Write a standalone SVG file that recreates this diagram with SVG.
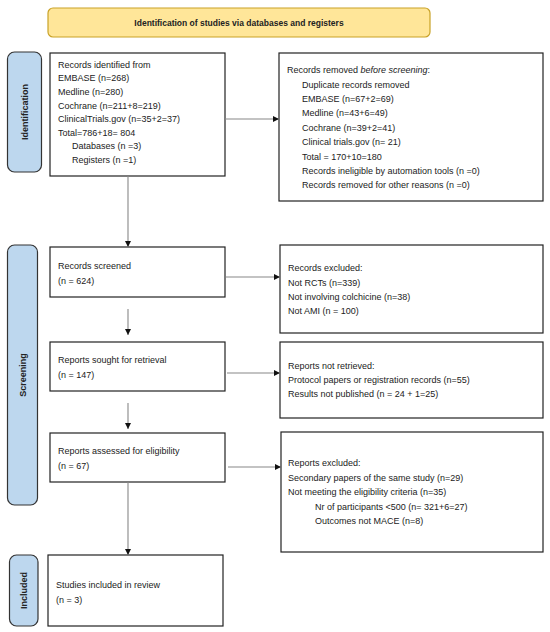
<svg xmlns="http://www.w3.org/2000/svg" width="550" height="632" viewBox="0 0 550 632">
<defs>
<style>
text{font-family:"Liberation Sans",Arial,sans-serif;font-size:9px;fill:#222}
.box{fill:#fff;stroke:#222;stroke-width:1.2}
.side{fill:#bdd7ee;stroke:#333;stroke-width:1.2}
.lab{font-weight:bold;font-size:9px;text-anchor:middle}
.con{stroke:#888;stroke-width:1.1;fill:none;marker-end:url(#ah)}
</style>
<marker id="ah" viewBox="0 0 10 10" refX="10" refY="5" markerWidth="6" markerHeight="6" orient="auto" markerUnits="userSpaceOnUse">
<path d="M0,0 L10,5 L0,10 z" fill="#111"/>
</marker>
</defs>
<rect width="550" height="632" fill="#fff"/>

<g id="title">
<rect x="48" y="8" width="382" height="29" rx="5" fill="#ffe699" stroke="#c9a227" stroke-width="1.2"/>
<text x="239" y="25.5" class="lab" style="font-size:8.5px">Identification of studies via databases and registers</text>
</g>

<g id="side-identification">
<rect x="7.5" y="52" width="34" height="120" rx="7" class="side"/>
<text class="lab" transform="translate(27.5,112) rotate(-90)">Identification</text>
</g>
<g id="side-screening">
<rect x="7.5" y="245" width="30" height="260" rx="7" class="side"/>
<text class="lab" transform="translate(25.5,375) rotate(-90)">Screening</text>
</g>
<g id="side-included">
<rect x="9.5" y="555" width="28.5" height="71" rx="7" class="side"/>
<text class="lab" transform="translate(26.5,590.5) rotate(-90)">Included</text>
</g>

<g id="records-identified">
<rect x="50" y="53" width="175" height="123" class="box"/>
<text x="58" y="67.5">Records identified from</text>
<text x="58" y="81.3">EMBASE (n=268)</text>
<text x="58" y="95">Medline (n=280)</text>
<text x="58" y="108.6">Cochrane (n=211+8=219)</text>
<text x="58" y="122.2">ClinicalTrials.gov (n=35+2=37)</text>
<text x="58" y="135.8">Total=786+18= 804</text>
<text x="72" y="149.4">Databases (n =3)</text>
<text x="72" y="163">Registers (n =1)</text>
</g>

<g id="records-removed">
<rect x="279" y="53" width="264" height="148" class="box"/>
<text x="287" y="73.2">Records removed <tspan font-style="italic">before screening</tspan>:</text>
<text x="302" y="87.6">Duplicate records removed</text>
<text x="302" y="102">EMBASE (n=67+2=69)</text>
<text x="302" y="116.4">Medline (n=43+6=49)</text>
<text x="302" y="130.8">Cochrane (n=39+2=41)</text>
<text x="302" y="145.2">Clinical trials.gov (n= 21)</text>
<text x="302" y="159.6">Total = 170+10=180</text>
<text x="302" y="174">Records ineligible by automation tools (n =0)</text>
<text x="302" y="188.4">Records removed for other reasons (n =0)</text>
</g>

<g id="records-screened">
<rect x="50" y="247" width="175" height="50" class="box"/>
<text x="58" y="269.2">Records screened</text>
<text x="58" y="284.2">(n = 624)</text>
</g>

<g id="records-excluded">
<rect x="280" y="245" width="263" height="88" class="box"/>
<text x="288" y="271.2">Records excluded:</text>
<text x="288" y="285.5">Not RCTs (n=339)</text>
<text x="288" y="299.8">Not involving colchicine (n=38)</text>
<text x="288" y="314.1">Not AMI (n = 100)</text>
</g>

<g id="reports-sought">
<rect x="50" y="342" width="175" height="49" class="box"/>
<text x="58" y="362.5">Reports sought for retrieval</text>
<text x="58" y="378">(n = 147)</text>
</g>

<g id="reports-not-retrieved">
<rect x="280" y="342" width="263" height="76" class="box"/>
<text x="288" y="369.2">Reports not retrieved:</text>
<text x="288" y="383.3">Protocol papers or registration records (n=55)</text>
<text x="288" y="397.4">Results not published (n = 24 + 1=25)</text>
</g>

<g id="reports-assessed">
<rect x="50" y="433" width="175" height="49" class="box"/>
<text x="58" y="454">Reports assessed for eligibility</text>
<text x="58" y="469">(n = 67)</text>
</g>

<g id="reports-excluded">
<rect x="281" y="432" width="262" height="120" class="box"/>
<text x="288" y="466.2">Reports excluded:</text>
<text x="288" y="480.7">Secondary papers of the same study (n=29)</text>
<text x="288" y="495.2">Not meeting the eligibility criteria (n=35)</text>
<text x="315" y="509.7">Nr of participants &lt;500 (n= 321+6=27)</text>
<text x="315" y="524.2">Outcomes not MACE (n=8)</text>
</g>

<g id="studies-included">
<rect x="48" y="555" width="175" height="71" class="box"/>
<text x="56" y="588.2">Studies included in review</text>
<text x="56" y="603.2">(n = 3)</text>
</g>

<g id="connectors">
<line x1="225" y1="119" x2="279" y2="119" class="con"/>
<line x1="128" y1="176" x2="128" y2="247" class="con"/>
<line x1="226" y1="277" x2="280" y2="277" class="con"/>
<line x1="128" y1="309" x2="128" y2="335" class="con"/>
<line x1="227" y1="373" x2="280" y2="373" class="con"/>
<line x1="128" y1="403" x2="128" y2="429" class="con"/>
<line x1="228" y1="467" x2="281" y2="467" class="con"/>
<line x1="128" y1="482" x2="128" y2="555" class="con"/>
</g>
</svg>
